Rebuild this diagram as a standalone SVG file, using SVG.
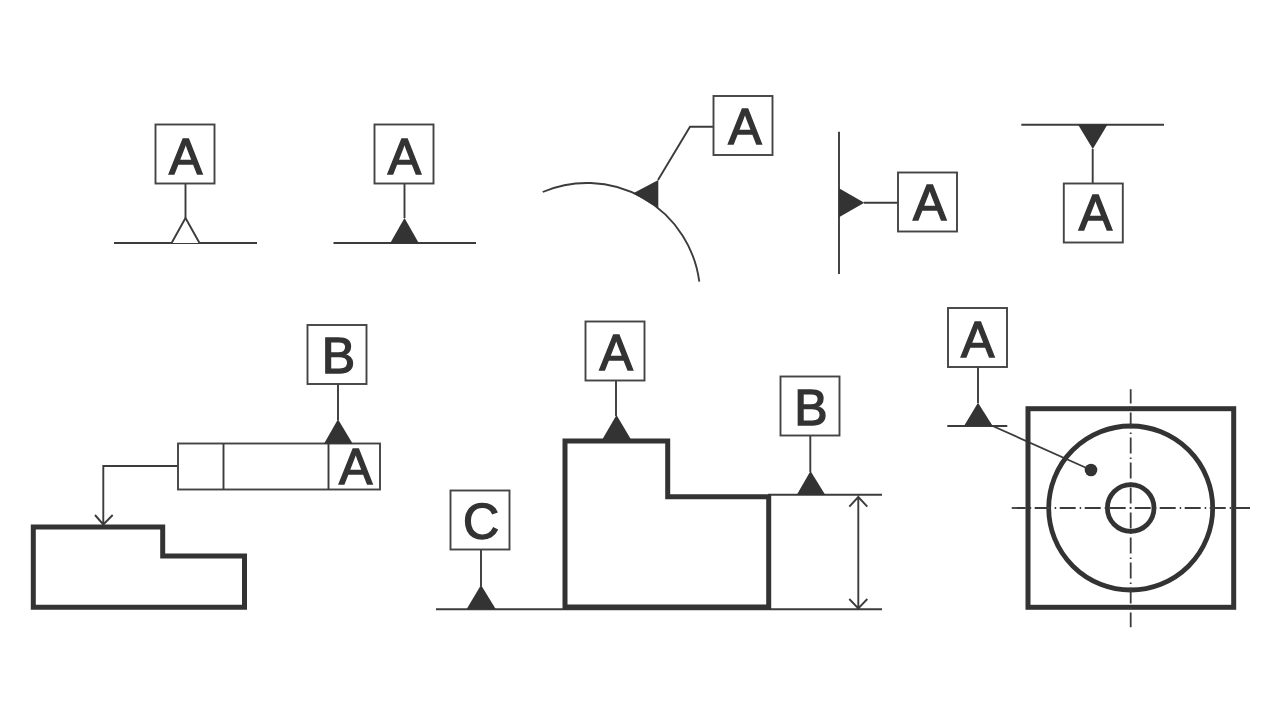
<svg xmlns="http://www.w3.org/2000/svg" width="1280" height="720" viewBox="0 0 1280 720">
<style>
.l{fill:none;stroke:#3c3c3c;stroke-width:1.9}
.b{fill:#fff;stroke:#444;stroke-width:1.9}
.t{fill:#333;stroke:none}
.p{fill:none;stroke:#333;stroke-width:5;stroke-linejoin:miter}
.c{fill:none;stroke:#333;stroke-width:4.8}
.d{fill:none;stroke:#3c3c3c;stroke-width:1.8;stroke-dasharray:16 4 1.500 3.500}
.tx{font-family:"Liberation Sans",Arial,sans-serif;font-size:50px;fill:#333;text-anchor:middle;stroke:#333;stroke-width:1.4}
</style>
<rect width="1280" height="720" fill="#fff"/>
<g id="connectors">
<path class="l" d="M114 243H257M185.500 184V218M333.500 243H476M404.500 184V218"/>
<path class="l" d="M542.700 192A113.300 113.300 0 0 1 699.300 281.700M658 180L690 126.700H713.500"/>
<path class="l" d="M839 131.700V274M864 202.700H898M1021.300 124.700H1164M1092.700 149V183.500"/>
<path class="l" d="M338 384V420M178 466H103.300V525M95 515L103.300 524.500L112.700 515"/>
<path class="l" d="M616 380.500V416M481 550V586M810.300 435.500V472M768 494.700H882M436 609.300H882M858.300 497V608M849.300 506.700L858.300 497L867.300 506.700M849.300 599L858.300 608.300L867.300 599"/>
<path class="l" d="M978 367V403M947.300 426H1007.300M992.700 426L1091 470"/>
</g>
<g id="sym-open"><path d="M171.600 243L185.500 218L199.500 243" fill="#fff" stroke="#3c3c3c" stroke-width="1.900"/></g>
<g id="sym-1"><polygon class="t" points="390,243.500 404.500,218 419,243.500"/></g>
<g id="sym-2"><polygon class="t" points="633.300,193.300 658.300,180 658.300,208.300"/></g>
<g id="sym-3"><polygon class="t" points="839,188.300 864.300,202.700 839,217.300"/></g>
<g id="sym-4"><polygon class="t" points="1078,124.500 1107.500,124.500 1092.800,149"/></g>
<g id="part-left"><path class="p" d="M33.300 527H162.700V556H244.500V607.300H33.300Z"/></g>
<g id="part-mid"><path class="p" d="M565 441H667.700V496.700H768.700V607H565Z"/></g>
<g id="part-right">
<rect class="p" x="1028" y="408.700" width="205.700" height="198.600"/>
<circle class="c" cx="1130.700" cy="508" r="82"/>
<circle class="c" cx="1130.700" cy="508" r="23.300"/>
<path class="d" stroke-dashoffset="2" d="M1011.700 508H1250"/>
<path class="d" stroke-dashoffset="1.800" d="M1130.700 389.300V627.300"/>
<circle class="t" cx="1091" cy="470" r="6.300"/>
</g>
<g id="fcf">
<rect class="b" x="178" y="443.500" width="202" height="46"/>
<path class="l" d="M223.500 443.500V489.500M328.500 443.500V489.500"/>
<text class="tx" x="355.800" y="483.500">A</text>
</g>
<g id="dat-a1"><rect class="b" x="155.500" y="124.500" width="59" height="59"/><text class="tx" x="185.800" y="173.500">A</text></g>
<g id="dat-a2"><rect class="b" x="374.500" y="124.500" width="59" height="59"/><text class="tx" x="404.500" y="173.500">A</text></g>
<g id="dat-a3"><rect class="b" x="713.500" y="96" width="59" height="59"/><text class="tx" x="745" y="144">A</text></g>
<g id="dat-a4"><rect class="b" x="898" y="172.500" width="59" height="59"/><text class="tx" x="929.700" y="220">A</text></g>
<g id="dat-a5"><rect class="b" x="1063.800" y="183.500" width="59" height="59"/><text class="tx" x="1095.500" y="230">A</text></g>
<g id="dat-b1"><rect class="b" x="307.500" y="325" width="59" height="59"/><text class="tx" x="338.500" y="372.800">B</text></g>
<g id="dat-a6"><rect class="b" x="585.500" y="321.500" width="59" height="59"/><text class="tx" x="616.300" y="369.500">A</text></g>
<g id="dat-b2"><rect class="b" x="780.500" y="376.500" width="59" height="59"/><text class="tx" x="811" y="424.500">B</text></g>
<g id="dat-c"><rect class="b" x="450.500" y="490.500" width="59" height="59"/><text class="tx" x="481" y="539">C</text></g>
<g id="dat-a7"><rect class="b" x="948" y="308" width="59" height="59"/><text class="tx" x="977.800" y="356.500">A</text></g>
<g id="sym-5"><polygon class="t" points="324,443.800 338,419.300 352.700,443.800"/></g>
<g id="sym-6"><polygon class="t" points="602.300,439.500 616.500,415 631,439.500"/></g>
<g id="sym-7"><polygon class="t" points="466.700,609 481,585 495.700,609"/></g>
<g id="sym-8"><polygon class="t" points="796.700,495 810.500,471 825.300,495"/></g>
<g id="sym-9"><polygon class="t" points="964,426 978,402.700 992.700,426"/></g>
</svg>
